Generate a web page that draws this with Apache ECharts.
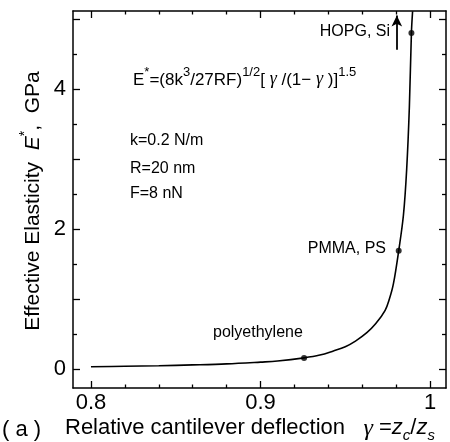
<!DOCTYPE html>
<html><head><meta charset="utf-8">
<script src="https://cdn.jsdelivr.net/npm/echarts@6/dist/echarts.min.js"></script>
<style>html,body{margin:0;padding:0;background:#fff}#c{width:450px;height:442px}</style>
</head><body><div id="c"></div>
<script>
// Curve (gamma, E* in GPa)
const curveX = [0.800, 0.820, 0.840, 0.860, 0.880, 0.900, 0.910, 0.9257, 0.935, 0.943, 0.950, 0.956, 0.9627, 0.968, 0.9735, 0.976, 0.9784, 0.9815, 0.9843, 0.9862, 0.9878, 0.9890, 0.9897];
const curveY = [0.033, 0.040, 0.048, 0.060, 0.075, 0.100, 0.115, 0.160, 0.200, 0.260, 0.320, 0.400, 0.520, 0.650, 0.840, 1.000, 1.220, 1.690, 2.200, 2.850, 3.750, 4.800, 5.110];
// Marked materials
const pointX = [0.9257, 0.9815, 0.9890];
const pointY = [0.16, 1.69, 4.80];
const pointNames = ['polyethylene', 'PMMA, PS', 'HOPG, Si'];
// Arrow beside HOPG, Si (data coords)
const arrowX = [0.9804, 0.9804];
const arrowY = [4.56, 5.05];
// Axis ticks
const xRange = [0.7894, 1.0094];
const yRange = [-0.27, 5.114];
const xTickLabels = [0.8, 0.9, 1];
const xMinorTicks = [0.82, 0.84, 0.86, 0.88, 0.92, 0.94, 0.96, 0.98];
const yTickLabels = [0, 2, 4];
const yMajorTicks = [0, 1, 2, 3, 4, 5];
const yMinorTicks = [0.5, 1.5, 2.5, 3.5, 4.5];

const FONT = "'Liberation Sans', Arial, Helvetica, sans-serif";
const SERIF = "'Liberation Serif', 'DejaVu Serif', serif";
const chart = echarts.init(document.getElementById('c'), null, {renderer: 'canvas'});

function axis(dim, pos, ticks, len, showLine, labels) {
  return {
    type: 'value', position: pos, min: dim === 'x' ? xRange[0] : yRange[0], max: dim === 'x' ? xRange[1] : yRange[1],
    splitLine: {show: false},
    axisLine: {show: showLine, onZero: false, lineStyle: {color: '#000', width: 1.5}},
    axisTick: {show: true, inside: true, length: len, customValues: ticks, lineStyle: {color: '#000', width: 1.3}},
    axisLabel: labels ? {show: true, customValues: labels, color: '#000', fontSize: 22, fontFamily: FONT, margin: dim === 'x' ? 4 : 7,
      formatter: v => String(v)} : {show: false}
  };
}

const option = {
  animation: false,
  backgroundColor: '#fff',
  grid: {left: 73, top: 11, width: 373, height: 377, containLabel: false},
  xAxis: [
    axis('x', 'bottom', xTickLabels, 7, true, xTickLabels),
    axis('x', 'bottom', xMinorTicks, 3.5, false, null),
    axis('x', 'top', xTickLabels, 7, true, null),
    axis('x', 'top', xMinorTicks, 3.5, false, null)
  ],
  yAxis: [
    axis('y', 'left', yMajorTicks, 7, true, yTickLabels),
    axis('y', 'left', yMinorTicks, 4, false, null),
    axis('y', 'right', yMajorTicks, 7, true, null),
    axis('y', 'right', yMinorTicks, 4, false, null)
  ],
  series: [
    {
      type: 'line', xAxisIndex: 0, yAxisIndex: 0,
      data: curveX.map((x, i) => [x, curveY[i]]),
      smooth: 0.35, symbol: 'none', clip: true,
      lineStyle: {color: '#000', width: 1.6},
      markLine: {
        silent: true, symbol: ['none', 'arrow'], symbolSize: [8, 11],
        label: {show: false},
        lineStyle: {color: '#000', width: 1.8, type: 'solid'},
        data: [[{coord: [arrowX[0], arrowY[0]]}, {coord: [arrowX[1], arrowY[1]]}]]
      }
    },
    {
      type: 'scatter', xAxisIndex: 0, yAxisIndex: 0,
      data: pointX.map((x, i) => ({name: pointNames[i], value: [x, pointY[i]]})),
      symbol: 'circle', symbolSize: 6,
      itemStyle: {color: '#000'}
    }
  ],
  graphic: [
    // y axis title
    {type: 'text', x: 31, y: 201, rotation: Math.PI / 2,
      style: {text: '{t|Effective Elasticity  }{i|E}{sup|*}{t|,  GPa}', fill: '#000', align: 'center', verticalAlign: 'middle',
        rich: {
          i: {fontFamily: FONT, fontStyle: 'italic', fontSize: 21, verticalAlign: 'bottom', lineHeight: 21},
          t: {fontFamily: FONT, fontSize: 21, verticalAlign: 'bottom', lineHeight: 21},
          sup: {fontFamily: FONT, fontSize: 14, verticalAlign: 'top', padding: [0, 0, 12, 0]}
        }}},
    // x axis title
    {type: 'text', x: 65, y: 430,
      style: {text: '{t|Relative cantilever deflection   }{g|γ}{t| =}{i|z}{sub|c}{t|/}{i|z}{sub|s}', fill: '#000', align: 'left', verticalAlign: 'middle',
        rich: {
          t: {fontFamily: FONT, fontSize: 22, verticalAlign: 'top', lineHeight: 22},
          i: {fontFamily: FONT, fontStyle: 'italic', fontSize: 22, verticalAlign: 'top', lineHeight: 22},
          g: {fontFamily: SERIF, fontStyle: 'italic', fontSize: 24, verticalAlign: 'top', lineHeight: 22},
          sub: {fontFamily: FONT, fontStyle: 'italic', fontSize: 15, verticalAlign: 'bottom', padding: [11, 0, 0, 0]}
        }}},
    {type: 'text', x: 2, y: 430, style: {text: '( a )', font: '22px ' + FONT, fill: '#000', align: 'left', verticalAlign: 'middle'}},
    // formula
    {type: 'text', x: 133, y: 77,
      style: {text: '{t|E}{sup|*}{t|=(8k}{sup|3}{t|/27RF)}{sup|1/2}{t|[ }{g|γ}{t| /(1− }{g|γ}{t| )]}{sup|1.5}', fill: '#000', align: 'left', verticalAlign: 'middle',
        rich: {
          t: {fontFamily: FONT, fontSize: 17, verticalAlign: 'bottom', lineHeight: 17},
          g: {fontFamily: SERIF, fontStyle: 'italic', fontSize: 18, verticalAlign: 'bottom', lineHeight: 17},
          sup: {fontFamily: FONT, fontSize: 13, verticalAlign: 'top', padding: [0, 0, 10, 0]}
        }}},
    {type: 'text', x: 130, y: 141, style: {text: 'k=0.2 N/m', font: '16px ' + FONT, fill: '#000', align: 'left', verticalAlign: 'middle'}},
    {type: 'text', x: 130, y: 169, style: {text: 'R=20 nm', font: '16px ' + FONT, fill: '#000', align: 'left', verticalAlign: 'middle'}},
    {type: 'text', x: 130, y: 194, style: {text: 'F=8 nN', font: '16px ' + FONT, fill: '#000', align: 'left', verticalAlign: 'middle'}},
    {type: 'text', x: 386, y: 249, style: {text: pointNames[1], font: '16px ' + FONT, fill: '#000', align: 'right', verticalAlign: 'middle'}},
    {type: 'text', x: 213, y: 333, style: {text: pointNames[0], font: '16px ' + FONT, fill: '#000', align: 'left', verticalAlign: 'middle'}},
    {type: 'text', x: 390, y: 32, style: {text: pointNames[2], font: '16px ' + FONT, fill: '#000', align: 'right', verticalAlign: 'middle'}}
  ]
};
chart.setOption(option);
</script>
</body></html>
